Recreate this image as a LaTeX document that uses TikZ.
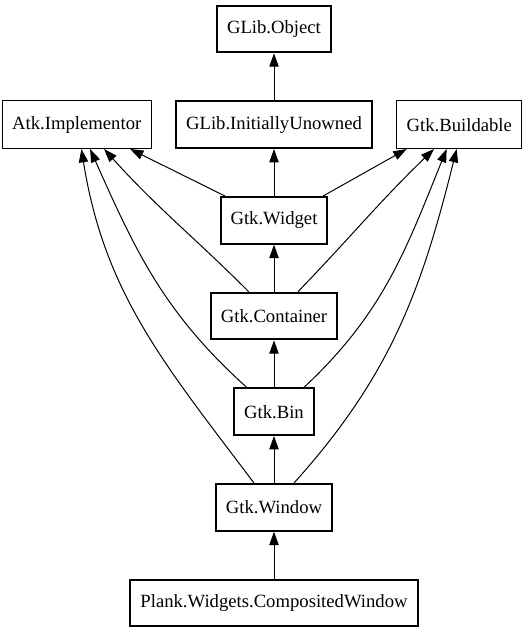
\documentclass[tikz,border=0pt]{standalone}
\usepackage{fontspec}
\setmainfont{Liberation Serif}
\usetikzlibrary{arrows.meta,positioning}

\begin{document}
\begin{tikzpicture}[
    node distance=35.25pt and 17.5pt,
    cls/.style={rectangle, draw=black, line width=1.5pt, minimum height=35pt, inner xsep=7.5pt, font=\fontsize{14}{16}\selectfont},
    iface/.style={cls, line width=0.75pt, minimum height=35.75pt},
    arr/.style={-{Triangle[length=10pt,width=7pt]}, line width=0.75pt}
]
    \useasboundingbox (0,0) rectangle (392.25pt,-476.25pt);

    \node [cls] (obj) at (205.5pt,-21.75pt) {GLib.Object};
    \node [cls, below=of obj] (unowned) {GLib.InitiallyUnowned};
    \node [iface, left=of unowned] (atk) {Atk.Implementor};
    \node [iface, right=of unowned] (build) {Gtk.Buildable};
    \node [cls, below=of unowned] (widget) {Gtk.Widget};
    \node [cls, below=of widget] (container) {Gtk.Container};
    \node [cls, below=of container] (bin) {Gtk.Bin};
    \node [cls, below=of bin] (window) {Gtk.Window};
    \node [cls, below=of window] (cwin) {Plank.Widgets.CompositedWindow};

    % class chain
    \draw [arr] (unowned) -- (obj);
    \draw [arr] (widget) -- (unowned);
    \draw [arr] (container) -- (widget);
    \draw [arr] (bin) -- (container);
    \draw [arr] (window) -- (bin);
    \draw [arr] (cwin) -- (window);

    % interfaces
    \draw [arr] ([xshift=4pt]widget.north west) -- ([xshift=40pt]atk.south);
    \draw [arr] ([xshift=-19pt]container.north) to[out=135,in=-48] ([xshift=20.5pt]atk.south);
    \draw [arr] ([xshift=-20.5pt]bin.north) to[out=138,in=-66] ([xshift=10pt]atk.south);
    \draw [arr] ([xshift=-15pt]window.north) to[out=127,in=-81] ([xshift=3.5pt]atk.south);
    \draw [arr] ([xshift=-4pt]widget.north east) -- ([xshift=-39.5pt]build.south);
    \draw [arr] ([xshift=18pt]container.north) to[out=46,in=-136] ([xshift=-19pt]build.south);
    \draw [arr] ([xshift=22.5pt]bin.north) to[out=43,in=-112] ([xshift=-9.5pt]build.south);
    \draw [arr] ([xshift=15pt]window.north) to[out=48,in=-104] ([xshift=-2pt]build.south);
\end{tikzpicture}
\end{document}
